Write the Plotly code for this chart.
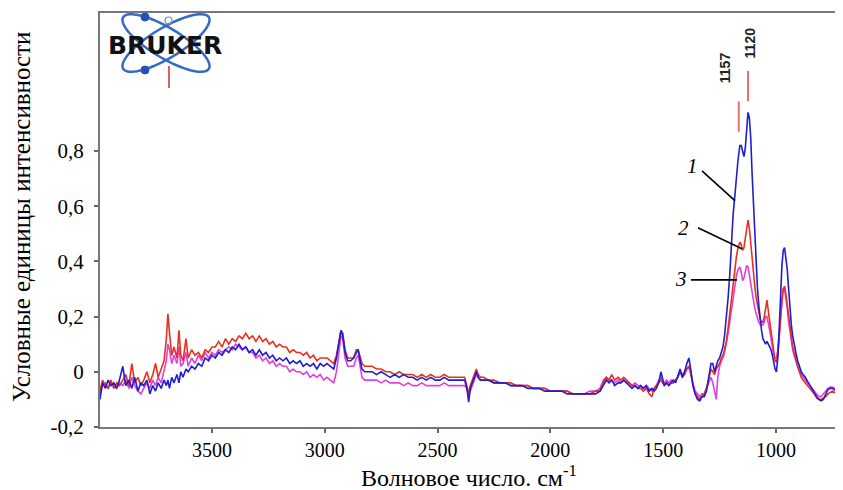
import numpy as np
import plotly.graph_objects as go

# ---------------- data ----------------
wavenumber = [
    3996, 3985, 3972, 3960, 3948, 3935, 3922, 3910, 3895, 3882, 3868, 3855, 3842, 3828, 3815, 3802, 3788, 3775, 3762, 3750, 3738, 3725, 3712,
    3702, 3695, 3688, 3678, 3668, 3655, 3646, 3638, 3628, 3615, 3605, 3590, 3575, 3560, 3545, 3530, 3515, 3500,
    3485, 3470, 3455, 3440, 3425, 3410, 3395, 3380, 3365, 3350, 3335, 3320, 3305, 3290, 3275, 3260, 3245, 3230, 3215, 3200,
    3185, 3170, 3155, 3140, 3125, 3110, 3095, 3080, 3065, 3050, 3035, 3020, 3005,
    2990, 2975, 2960, 2948, 2938, 2928, 2920, 2910, 2898, 2885, 2872, 2860, 2852, 2845, 2835, 2822, 2808,
    2790, 2770, 2750, 2730, 2710, 2690, 2670, 2650, 2630, 2610, 2590, 2570, 2550, 2530, 2510, 2490, 2470, 2450, 2430, 2410, 2395,
    2380, 2370, 2362, 2355, 2345, 2335, 2328, 2320, 2310, 2295,
    2275, 2250, 2225, 2200, 2175, 2150, 2125, 2100, 2075, 2050, 2025, 2000, 1975, 1950, 1925, 1900, 1875, 1850, 1825, 1800,
    1780, 1765, 1752, 1740, 1728, 1715, 1700, 1688, 1675, 1662, 1650, 1638, 1625, 1612, 1600, 1588, 1575, 1562, 1550, 1540, 1530, 1520, 1510, 1502,
    1495, 1485, 1475, 1465, 1455, 1445, 1435, 1425, 1415, 1405, 1395, 1386, 1378, 1368, 1358, 1348, 1338, 1328, 1318, 1308, 1298, 1288, 1280, 1272, 1265, 1258, 1250, 1242, 1235, 1228, 1220,
    1212, 1205, 1198, 1190, 1182, 1175, 1168, 1160,
    1154, 1148, 1142, 1136, 1130, 1124, 1118, 1112, 1106, 1100, 1094, 1088, 1082, 1076, 1070, 1064, 1058, 1052, 1046, 1040, 1034, 1028, 1022, 1016, 1010, 1004,
    998, 992, 986, 980, 974, 968, 962, 956, 950, 944, 938, 932, 926, 920,
    912, 904, 896, 888, 880,
    870, 860, 850, 840, 830, 820, 810, 800, 790, 780, 770, 760, 750, 740, 730, 720, 710, 703,
]

curve1_blue = [
    -0.10, -0.04, -0.06, -0.03, -0.05, -0.04, -0.06, -0.03, 0.02, -0.05, -0.03, -0.06, -0.02, -0.07, -0.04, -0.05, -0.03, -0.08, -0.05, -0.07, -0.04, -0.06, -0.03,
    -0.05, -0.03, -0.06, -0.02, -0.04, -0.01, -0.04, 0.00, -0.02, 0.01, 0.00, 0.02, 0.01, 0.03, 0.02, 0.05, 0.04, 0.06,
    0.05, 0.07, 0.06, 0.08, 0.07, 0.09, 0.08, 0.10, 0.08, 0.09, 0.07, 0.08, 0.06, 0.08, 0.06, 0.07, 0.05, 0.06, 0.04, 0.05,
    0.04, 0.05, 0.03, 0.04, 0.03, 0.04, 0.02, 0.03, 0.02, 0.03, 0.01, 0.03, 0.02,
    0.03, 0.02, 0.01, 0.05, 0.10, 0.15, 0.13, 0.07, 0.04, 0.04, 0.05, 0.07, 0.08, 0.05, 0.01, 0.00, 0.00,
    0.00, -0.01, 0.00, -0.01, -0.02, -0.01, -0.02, -0.01, -0.02, -0.02, -0.03, -0.02, -0.03, -0.02, -0.03, -0.03, -0.02, -0.03, -0.03, -0.03, -0.03,
    -0.03, -0.06, -0.11, -0.06, -0.04, -0.02, 0.00, -0.02, -0.03, -0.03,
    -0.03, -0.04, -0.04, -0.04, -0.05, -0.05, -0.05, -0.06, -0.06, -0.06, -0.07, -0.07, -0.07, -0.07, -0.08, -0.08, -0.08, -0.08, -0.08, -0.08,
    -0.07, -0.05, -0.03, -0.04, -0.03, -0.05, -0.04, -0.04, -0.03, -0.04, -0.05, -0.06, -0.05, -0.06, -0.05, -0.06, -0.05, -0.07, -0.06, -0.07, -0.06, -0.04, 0.00, -0.03,
    -0.05, -0.04, -0.05, -0.04, -0.03, -0.04, -0.01, 0.01, -0.02, 0.00, 0.03, 0.05, 0.01, -0.05, -0.08, -0.10, -0.105, -0.09, -0.09, -0.07, -0.02, 0.03, 0.03, 0.00, 0.02, 0.04, 0.05, 0.07, 0.09, 0.13, 0.19,
    0.27, 0.35, 0.47, 0.57, 0.64, 0.71, 0.77, 0.82,
    0.82, 0.80, 0.78, 0.81, 0.88, 0.94, 0.92, 0.85, 0.72, 0.60, 0.48, 0.38, 0.30, 0.24, 0.19, 0.15, 0.12, 0.11, 0.10, 0.11, 0.10, 0.09, 0.08, 0.06, 0.03, 0.01,
    0.00, 0.05, 0.15, 0.28, 0.38, 0.44, 0.45, 0.41, 0.37, 0.30, 0.23, 0.17, 0.13, 0.10,
    0.07, 0.04, 0.015, 0.00, -0.01,
    -0.02, -0.035, -0.05, -0.065, -0.08, -0.09, -0.10, -0.105, -0.10, -0.08, -0.065, -0.06, -0.06, -0.065, -0.07, -0.075, -0.08, -0.08,
]

curve2_red = [
    -0.07, -0.03, -0.05, -0.06, -0.03, -0.06, -0.04, -0.05, -0.03, -0.01, -0.05, 0.03, -0.04, -0.02, -0.05, -0.03, 0.00, -0.04, -0.01, 0.03, -0.02, 0.01, 0.04,
    0.12, 0.21, 0.14, 0.06, 0.09, 0.05, 0.15, 0.06, 0.04, 0.12, 0.05, 0.08, 0.06, 0.07, 0.05, 0.08, 0.07, 0.09,
    0.09, 0.11, 0.09, 0.12, 0.10, 0.12, 0.11, 0.13, 0.12, 0.14, 0.12, 0.13, 0.11, 0.13, 0.11, 0.12, 0.10, 0.11, 0.09, 0.10,
    0.09, 0.09, 0.07, 0.08, 0.07, 0.07, 0.06, 0.07, 0.05, 0.06, 0.04, 0.05, 0.05,
    0.05, 0.04, 0.03, 0.06, 0.11, 0.15, 0.14, 0.08, 0.05, 0.05, 0.05, 0.08, 0.08, 0.06, 0.03, 0.02, 0.02,
    0.02, 0.01, 0.01, 0.00, 0.00, -0.01, 0.00, -0.01, -0.01, -0.01, -0.02, -0.01, -0.02, -0.01, -0.02, -0.02, -0.01, -0.02, -0.02, -0.02, -0.02,
    -0.02, -0.05, -0.08, -0.05, -0.03, -0.01, 0.01, -0.01, -0.02, -0.02,
    -0.03, -0.03, -0.04, -0.04, -0.04, -0.05, -0.05, -0.05, -0.06, -0.06, -0.06, -0.07, -0.07, -0.07, -0.07, -0.08, -0.08, -0.08, -0.08, -0.07,
    -0.07, -0.04, -0.02, -0.03, -0.01, -0.03, -0.02, -0.03, -0.02, -0.03, -0.04, -0.05, -0.05, -0.06, -0.06, -0.07, -0.06, -0.08, -0.09, -0.06, -0.05, -0.04, -0.03, -0.04,
    -0.05, -0.04, -0.05, -0.04, -0.04, -0.03, -0.02, 0.00, -0.02, -0.01, 0.01, 0.02, 0.00, -0.05, -0.08, -0.09, -0.10, -0.09, -0.08, -0.06, -0.03, 0.01, 0.00, -0.01, 0.01, 0.02, 0.03, 0.05, 0.06, 0.08, 0.11,
    0.16, 0.21, 0.27, 0.33, 0.38, 0.42, 0.45, 0.47,
    0.46, 0.44, 0.45, 0.49, 0.53, 0.55, 0.52, 0.46, 0.40, 0.35, 0.31, 0.27, 0.24, 0.21, 0.19, 0.18, 0.18, 0.20, 0.24, 0.26, 0.22, 0.18, 0.14, 0.10, 0.06, 0.04,
    0.035, 0.06, 0.12, 0.20, 0.26, 0.30, 0.31, 0.28, 0.24, 0.19, 0.15, 0.12, 0.09, 0.07,
    0.04, 0.02, 0.00, -0.02, -0.03,
    -0.04, -0.05, -0.06, -0.07, -0.08, -0.095, -0.10, -0.10, -0.095, -0.09, -0.08, -0.075, -0.07, -0.075, -0.08, -0.085, -0.09, -0.09,
]

curve3_magenta = [
    -0.08, -0.05, -0.04, -0.06, -0.04, -0.05, -0.06, -0.04, -0.05, -0.03, -0.06, -0.02, -0.05, -0.07, -0.08, -0.06, -0.04, -0.06, -0.03, -0.05, -0.02, -0.04, 0.00,
    0.04, 0.10, 0.08, 0.03, 0.06, 0.03, 0.09, 0.02, 0.03, 0.07, 0.02, 0.05, 0.03, 0.06, 0.04, 0.07, 0.05, 0.07,
    0.06, 0.08, 0.07, 0.08, 0.09, 0.08, 0.10, 0.09, 0.08, 0.09, 0.07, 0.07, 0.05, 0.06, 0.04, 0.05, 0.03, 0.04, 0.02, 0.03,
    0.02, 0.02, 0.00, 0.01, 0.00, 0.00, -0.01, 0.00, -0.02, -0.01, -0.02, -0.01, -0.03,
    -0.02, -0.03, -0.04, 0.00, 0.07, 0.13, 0.12, 0.05, 0.02, 0.02, 0.02, 0.05, 0.06, 0.03, -0.02, -0.03, -0.03,
    -0.03, -0.03, -0.04, -0.03, -0.04, -0.04, -0.04, -0.05, -0.04, -0.05, -0.05, -0.04, -0.05, -0.05, -0.05, -0.05, -0.04, -0.05, -0.05, -0.05, -0.05,
    -0.05, -0.06, -0.09, -0.07, -0.05, -0.03, -0.01, -0.02, -0.03, -0.03,
    -0.03, -0.04, -0.04, -0.04, -0.05, -0.05, -0.05, -0.05, -0.06, -0.06, -0.06, -0.07, -0.07, -0.07, -0.07, -0.08, -0.08, -0.08, -0.07, -0.07,
    -0.06, -0.03, -0.02, -0.03, -0.03, -0.04, -0.03, -0.04, -0.03, -0.04, -0.04, -0.05, -0.04, -0.05, -0.05, -0.06, -0.05, -0.06, -0.07, -0.06, -0.05, -0.03, -0.02, -0.04,
    -0.04, -0.03, -0.04, -0.03, -0.04, -0.03, -0.02, 0.00, -0.01, 0.00, 0.01, 0.02, -0.01, -0.04, -0.07, -0.08, -0.09, -0.08, -0.08, -0.06, -0.04, -0.02, -0.04, -0.08, -0.10, -0.02, 0.02, 0.04, 0.05, 0.07, 0.10,
    0.14, 0.18, 0.22, 0.27, 0.31, 0.35, 0.37, 0.38,
    0.36, 0.33, 0.34, 0.37, 0.385, 0.38, 0.35, 0.31, 0.28, 0.25, 0.23, 0.21, 0.19, 0.18, 0.17, 0.17, 0.17, 0.18, 0.20, 0.20, 0.18, 0.15, 0.12, 0.09, 0.06, 0.05,
    0.05, 0.08, 0.14, 0.21, 0.27, 0.30, 0.30, 0.27, 0.23, 0.18, 0.14, 0.11, 0.08, 0.06,
    0.04, 0.02, 0.00, -0.01, -0.02,
    -0.03, -0.04, -0.05, -0.06, -0.07, -0.08, -0.09, -0.09, -0.08, -0.07, -0.06, -0.055, -0.055, -0.06, -0.07, -0.07, -0.075, -0.08,
]

assert len(wavenumber) == len(curve1_blue) == len(curve2_red) == len(curve3_magenta), (
    len(wavenumber), len(curve1_blue), len(curve2_red), len(curve3_magenta))

x_tick_vals = [3500, 3000, 2500, 2000, 1500, 1000]
y_tick_vals = [-0.2, 0, 0.2, 0.4, 0.6, 0.8]
y_tick_text = ["-0,2", "0", "0,2", "0,4", "0,6", "0,8"]

peak_labels = ["1157", "1120"]
peak_label_wn = [1226, 1115]
peak_label_y = [1.10, 1.19]
peak_marker_wn = [1165, 1124]
peak_marker_y0 = [0.87, 0.98]
peak_marker_y1 = [0.98, 1.09]

curve_labels = ["1", "2", "3"]
curve_label_wn = [1368, 1412, 1421]
curve_label_y = [0.745, 0.52, 0.335]
pointer_start_wn = [1328, 1346, 1377]
pointer_start_y = [0.728, 0.522, 0.333]
pointer_end_wn = [1182, 1151, 1173]
pointer_end_y = [0.62, 0.446, 0.333]

x_title = "Волновое число. см<sup>-1</sup>"
y_title = "Условные единицы интенсивности"

SERIF = "Liberation Serif, Times New Roman, serif"

# ---------------- figure ----------------
# the page body has an 8px margin, so the figure is 8px smaller
OFF = 8
W, H = 843 - OFF, 490 - OFF
PLOT_L, PLOT_R, PLOT_T, PLOT_B = 100, 843, 13, 427   # plot area in window pixels
L, R, T, B = PLOT_L - OFF, 843 - PLOT_R, PLOT_T - OFF, 490 - PLOT_B
PW, PH = PLOT_R - PLOT_L, PLOT_B - PLOT_T


def px(x):
    return (x - PLOT_L) / PW


def py(y):
    return (PLOT_B - y) / PH


fig = go.Figure()
for vals, col in [(curve3_magenta, "#e040e0"), (curve2_red, "#e8301e"), (curve1_blue, "#1e1ed2")]:
    fig.add_trace(go.Scatter(x=wavenumber, y=vals, mode="lines",
                             line=dict(color=col, width=1.6), showlegend=False, hoverinfo="skip"))

shapes = []
annotations = []

# peak markers & labels
for lab, lx, ly, mx, y0, y1 in zip(peak_labels, peak_label_wn, peak_label_y,
                                   peak_marker_wn, peak_marker_y0, peak_marker_y1):
    shapes.append(dict(type="line", xref="x", yref="y", x0=mx, x1=mx, y0=y0, y1=y1,
                       line=dict(color="#e87070", width=2)))
    annotations.append(dict(x=lx, y=ly, xref="x", yref="y", text="<b>" + lab + "</b>", showarrow=False,
                            xanchor="center", yanchor="middle", textangle=-90,
                            font=dict(family="Liberation Sans", size=14, color="#222")))

# curve labels with pointer lines
for lab, lx, ly, sx, sy, ex, ey in zip(curve_labels, curve_label_wn, curve_label_y,
                                       pointer_start_wn, pointer_start_y, pointer_end_wn, pointer_end_y):
    shapes.append(dict(type="line", xref="x", yref="y", x0=sx, y0=sy, x1=ex, y1=ey,
                       line=dict(color="black", width=1.6)))
    annotations.append(dict(x=lx, y=ly, xref="x", yref="y", text="<i>" + lab + "</i>", showarrow=False,
                            xanchor="center", yanchor="middle",
                            font=dict(family=SERIF, size=21, color="black")))

# Bruker logo (decoration)
cx, cy, a, b = 166, 43, 50, 15
t = np.linspace(0, 2 * np.pi, 72)
for ang in (np.deg2rad(31), np.deg2rad(-31)):
    ex_ = cx + a * np.cos(t) * np.cos(ang) - b * np.sin(t) * np.sin(ang)
    ey_ = cy + a * np.cos(t) * np.sin(ang) + b * np.sin(t) * np.cos(ang)
    path = "M " + " L ".join(f"{px(u):.5f},{py(v):.5f}" for u, v in zip(ex_, ey_)) + " Z"
    shapes.append(dict(type="path", xref="paper", yref="paper", path=path,
                       line=dict(color="#3569c8", width=2.5)))
for dx, dy in [(145, 17), (145, 70)]:
    shapes.append(dict(type="circle", xref="paper", yref="paper",
                       x0=px(dx - 4), x1=px(dx + 4), y0=py(dy + 4), y1=py(dy - 4),
                       fillcolor="#2650b8", line=dict(color="#2650b8", width=1)))
shapes.append(dict(type="circle", xref="paper", yref="paper",
                   x0=px(165), x1=px(172), y0=py(24), y1=py(17),
                   line=dict(color="#888", width=1.2)))
shapes.append(dict(type="line", xref="paper", yref="paper", x0=px(169), x1=px(169), y0=py(66), y1=py(88),
                   line=dict(color="#e06060", width=2)))
annotations.append(dict(x=px(165), y=py(45), xref="paper", yref="paper", text="<b>BRUKER</b>",
                        xanchor="center", yanchor="middle",
                        showarrow=False, font=dict(family="DejaVu Sans", size=25, color="#111")))

# axis titles
annotations.append(dict(x=px(469), y=py(476), xref="paper", yref="paper", text=x_title, showarrow=False,
                        xanchor="center", yanchor="middle",
                        font=dict(family=SERIF, size=24, color="black")))
annotations.append(dict(x=px(21), y=py(217), xref="paper", yref="paper", text=y_title, showarrow=False,
                        xanchor="center", yanchor="middle", textangle=-90,
                        font=dict(family=SERIF, size=25, color="black")))

fig.update_layout(
    width=W, height=H,
    margin=dict(l=L, r=R, t=T, b=B, autoexpand=False),
    paper_bgcolor="white", plot_bgcolor="white",
    font=dict(family=SERIF),
    shapes=shapes, annotations=annotations,
    xaxis=dict(range=[3996, 703], tickvals=x_tick_vals, ticks="outside", ticklen=4,
               tickcolor="#666", tickwidth=1.5, showline=True, linecolor="#777", linewidth=2,
               mirror=True, showgrid=False, zeroline=False, automargin=False,
               tickfont=dict(family=SERIF, size=20, color="black")),
    yaxis=dict(range=[-0.2, 1.3], tickvals=y_tick_vals, ticktext=y_tick_text, ticks="outside",
               ticklen=4, tickcolor="#666", tickwidth=1.5, showline=True, linecolor="#777",
               linewidth=2, showgrid=False, zeroline=False, ticklabelstandoff=6, automargin=False,
               tickfont=dict(family=SERIF, size=21, color="black")),
)

fig.write_html("out.html")
